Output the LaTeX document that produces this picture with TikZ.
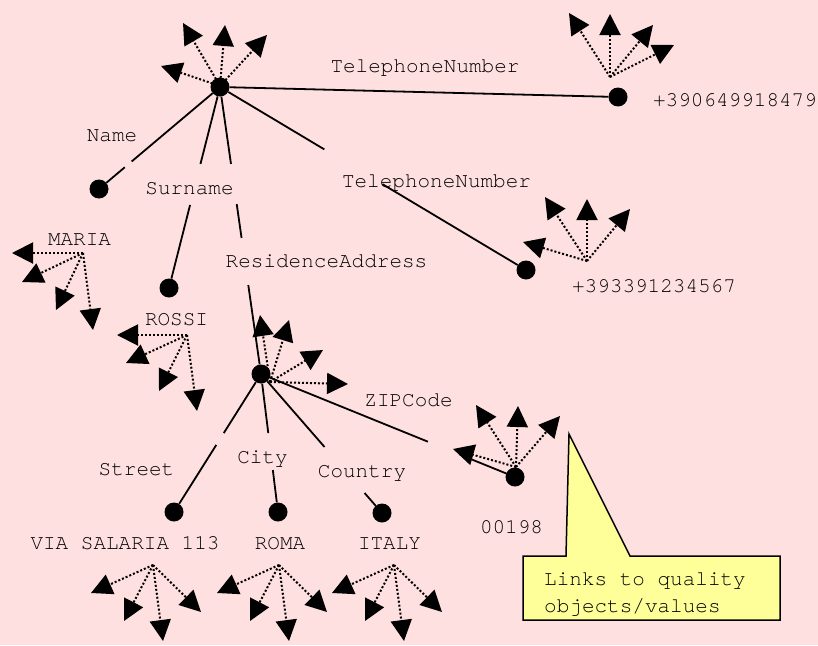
\documentclass[tikz,border=0pt]{standalone}
\usepackage{fontspec}
\setmonofont{TeX Gyre Cursor}
\usetikzlibrary{arrows.meta,calc}
\definecolor{bgpink}{RGB}{255,224,224}
\definecolor{noteyellow}{RGB}{255,255,153}
\begin{document}
\begin{tikzpicture}[x=1pt,y=-1pt,
  lbl/.style={font=\ttfamily\fontsize{21}{24}\selectfont, anchor=base, inner sep=0pt},
  dot/.style={circle, fill=black, minimum size=19pt, inner sep=0pt},
  link/.style={line width=1.8pt},
  qarrow/.style={line width=2pt, dash pattern=on 2pt off 2pt, -{Triangle[length=21pt,width=21pt]}},
  note/.style={draw=black, line width=1.5pt, fill=noteyellow}]
\fill[bgpink] (0,0) rectangle (818,645);
\useasboundingbox (0,0) rectangle (818,645);

% dots
\node[dot] (root) at (220,87) {};
\node[dot] (tel1) at (618,97) {};
\node[dot] (tel2) at (526,270) {};
\node[dot] (nameD) at (99,189) {};
\node[dot] (surD) at (169,288) {};
\node[dot] (resD) at (261,374) {};
\node[dot] (stD) at (174,512) {};
\node[dot] (cityD) at (278,512) {};
\node[dot] (coD) at (382,513) {};
\node[dot] (zipD) at (515,477) {};

% labels
\node[lbl] (lTel1) at (425,72) {TelephoneNumber};
\node[lbl] (vTel1) at (735,106) {+390649918479};
\node[lbl] (lName) at (112,141) {Name};
\node[lbl] (lSur) at (189.5,194) {Surname};
\node[lbl] (lTel2) at (436.5,187) {TelephoneNumber};
\node[lbl] (vMaria) at (79.5,245) {MARIA};
\node[lbl] (lRes) at (326.5,267) {ResidenceAddress};
\node[lbl] (vTel2) at (654,292) {+393391234567};
\node[lbl] (vRossi) at (176.5,325) {ROSSI};
\node[lbl] (lZip) at (408.5,406) {ZIPCode};
\node[lbl] (lStreet) at (136.5,475) {Street};
\node[lbl] (lCity) at (262.5,463) {City};
\node[lbl] (lCountry) at (362,477) {Country};
\node[lbl] (vZip) at (511.5,533) {00198};
\node[lbl] (vStreet) at (125,549) {VIA SALARIA 113};
\node[lbl] (vRoma) at (280,549) {ROMA};
\node[lbl] (vItaly) at (389.5,549) {ITALY};

% links
\draw[link] (root) -- (tel1);
\draw[link] (root) -- ($(root)!0.73!(nameD)$) ($(root)!0.787!(nameD)$) -- (nameD);
\draw[link] (root) -- ($(root)!0.383!(surD)$) ($(root)!0.587!(surD)$) -- (surD);
\draw[link] (root) -- ($(root)!0.268!(resD)$) ($(root)!0.408!(resD)$) -- ($(root)!0.526!(resD)$) ($(root)!0.69!(resD)$) -- (resD);
\draw[link] (root) -- ($(root)!0.341!(tel2)$) ($(root)!0.531!(tel2)$) -- (tel2);
\draw[link] (resD) -- ($(resD)!0.428!(stD)$) ($(resD)!0.514!(stD)$) -- (stD);
\draw[link] (resD) -- ($(resD)!0.428!(cityD)$) ($(resD)!0.696!(cityD)$) -- (cityD);
\draw[link] (resD) -- ($(resD)!0.525!(coD)$) ($(resD)!0.856!(coD)$) -- (coD);
\draw[link] (resD) -- ($(resD)!0.657!(zipD)$) ($(resD)!0.783!(zipD)$) -- (zipD);

% fan origins
\coordinate (fRoot) at (220,86);
\coordinate (fTel1) at (610,77);
\coordinate (fTel2) at (587,261);
\coordinate (fMaria) at (83,253);
\coordinate (fRossi) at (187,335);
\coordinate (fRes) at (270,382);
\coordinate (fZip) at (516,467);
\coordinate (fStreet) at (153,565);
\coordinate (fRoma) at (279,565);
\coordinate (fItaly) at (394,565);

% quality links
\foreach \dx/\dy in {-59/-20,-37/-63,5/-61,47/-51} \draw[qarrow] (fRoot) -- ++(\dx,\dy);
\foreach \dx/\dy in {-41/-64,0/-63,43/-52,64/-32} \draw[qarrow] (fTel1) -- ++(\dx,\dy);
\foreach \dx/\dy in {-64/-19,-42/-64,0/-62,43/-52} \draw[qarrow] (fTel2) -- ++(\dx,\dy);
\foreach \dx/\dy in {-71/0,-61/29,-27/57,10/77} \draw[qarrow] (fMaria) -- ++(\dx,\dy);
\foreach \dx/\dy in {-70/0,-61/28,-28/56,10/76} \draw[qarrow] (fRossi) -- ++(\dx,\dy);
\foreach \dx/\dy in {-10/-67,19/-62,53/-32,78/2} \draw[qarrow] (fRes) -- ++(\dx,\dy);
\foreach \dx/\dy in {-63/-18,-40/-62,2/-61,44/-51} \draw[qarrow] (fZip) -- ++(\dx,\dy);
\foreach \o in {fStreet,fRoma,fItaly}
  \foreach \dx/\dy in {-62/28,-29/56,10/76,48/47} \draw[qarrow] (\o) -- ++(\dx,\dy);

% callout
\coordinate (cA) at (523,556);
\coordinate (cB) at (566,556);
\coordinate (cTip) at (569,434);
\coordinate (cC) at (630,556);
\coordinate (cD) at (780,556);
\coordinate (cE) at (780,620);
\coordinate (cF) at (523,620);
\draw[note] (cA) -- (cB) -- (cTip) -- (cC) -- (cD) -- (cE) -- (cF) -- cycle;
\node[lbl, anchor=base west] (nt1) at (544,585) {Links to quality};
\node[lbl, anchor=base west] (nt2) at (544,612) {objects/values};
\end{tikzpicture}
\end{document}
